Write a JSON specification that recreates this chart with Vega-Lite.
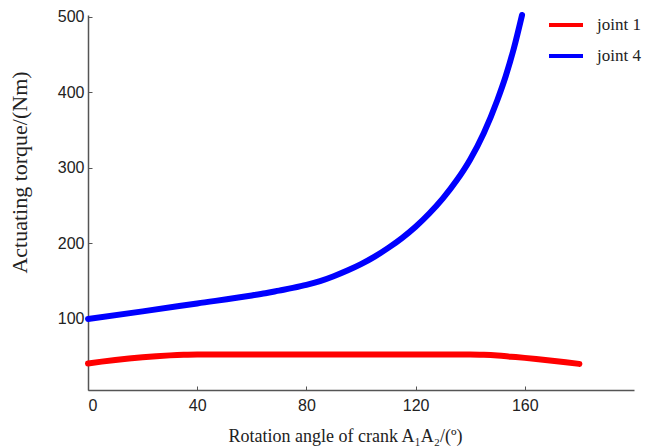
{
  "$schema": "https://vega.github.io/schema/vega-lite/v6.json",
  "width": 546,
  "height": 375,
  "autosize": "none",
  "padding": {"left": 88, "top": 15, "right": 14, "bottom": 57},
  "background": "white",
  "config": {"view": {"stroke": null}},
  "data": {
    "values": [
      {"series": "joint 1", "angle": 0, "torque": 41},
      {"series": "joint 1", "angle": 5, "torque": 43.5},
      {"series": "joint 1", "angle": 10, "torque": 45.7},
      {"series": "joint 1", "angle": 15, "torque": 47.6},
      {"series": "joint 1", "angle": 20, "torque": 49.3},
      {"series": "joint 1", "angle": 25, "torque": 50.7},
      {"series": "joint 1", "angle": 30, "torque": 51.8},
      {"series": "joint 1", "angle": 35, "torque": 52.6},
      {"series": "joint 1", "angle": 40, "torque": 53},
      {"series": "joint 1", "angle": 60, "torque": 53},
      {"series": "joint 1", "angle": 80, "torque": 53},
      {"series": "joint 1", "angle": 100, "torque": 53},
      {"series": "joint 1", "angle": 120, "torque": 53},
      {"series": "joint 1", "angle": 140, "torque": 53},
      {"series": "joint 1", "angle": 145, "torque": 52.5},
      {"series": "joint 1", "angle": 150, "torque": 51.5},
      {"series": "joint 1", "angle": 155, "torque": 50},
      {"series": "joint 1", "angle": 160, "torque": 48.5},
      {"series": "joint 1", "angle": 165, "torque": 46.7},
      {"series": "joint 1", "angle": 170, "torque": 44.8},
      {"series": "joint 1", "angle": 175, "torque": 42.8},
      {"series": "joint 1", "angle": 180, "torque": 40.5},
      {"series": "joint 4", "angle": 0, "torque": 100},
      {"series": "joint 4", "angle": 20, "torque": 110},
      {"series": "joint 4", "angle": 40, "torque": 120.5},
      {"series": "joint 4", "angle": 60, "torque": 131},
      {"series": "joint 4", "angle": 65, "torque": 134},
      {"series": "joint 4", "angle": 70, "torque": 137.5},
      {"series": "joint 4", "angle": 75, "torque": 141},
      {"series": "joint 4", "angle": 80, "torque": 145},
      {"series": "joint 4", "angle": 85, "torque": 150},
      {"series": "joint 4", "angle": 90, "torque": 156.5},
      {"series": "joint 4", "angle": 95, "torque": 164},
      {"series": "joint 4", "angle": 100, "torque": 172.5},
      {"series": "joint 4", "angle": 105, "torque": 182.5},
      {"series": "joint 4", "angle": 110, "torque": 194},
      {"series": "joint 4", "angle": 115, "torque": 207},
      {"series": "joint 4", "angle": 120, "torque": 222},
      {"series": "joint 4", "angle": 125, "torque": 239.5},
      {"series": "joint 4", "angle": 130, "torque": 259.5},
      {"series": "joint 4", "angle": 135, "torque": 283},
      {"series": "joint 4", "angle": 140, "torque": 311},
      {"series": "joint 4", "angle": 145, "torque": 346},
      {"series": "joint 4", "angle": 150, "torque": 390},
      {"series": "joint 4", "angle": 153, "torque": 421},
      {"series": "joint 4", "angle": 156, "torque": 458},
      {"series": "joint 4", "angle": 159, "torque": 502}
    ]
  },
  "mark": {"type": "line", "strokeWidth": 6, "interpolate": "monotone", "strokeCap": "round"},
  "encoding": {
    "x": {
      "field": "angle", "type": "quantitative",
      "scale": {"domain": [0, 200], "nice": false, "zero": false},
      "axis": {
        "values": [0, 40, 80, 120, 160],
        "title": "Rotation angle of crank A₁A₂/(º)",
        "titleFont": "Liberation Serif", "titleFontSize": 18, "titleFontWeight": "normal",
        "titleColor": "#222", "titleX": 257, "titlePadding": 14,
        "labelFont": "Liberation Sans", "labelFontSize": 16, "labelColor": "#222",
        "labelPadding": 11, "tickSize": -4, "tickColor": "#555", "domainColor": "#555",
        "domainWidth": 1.5, "grid": false
      }
    },
    "y": {
      "field": "torque", "type": "quantitative",
      "scale": {"domain": [6, 502], "nice": false, "zero": false},
      "axis": {
        "values": [100, 200, 300, 400, 500],
        "title": "Actuating torque/(Nm)",
        "titleFont": "Liberation Serif", "titleFontSize": 22, "titleFontWeight": "normal",
        "titleColor": "#222", "titleX": -57, "titleY": 157, "titleAlign": "center",
        "titleBaseline": "bottom",
        "labelFont": "Liberation Sans", "labelFontSize": 16, "labelColor": "#222",
        "labelPadding": 8, "tickSize": -4, "tickColor": "#555", "domainColor": "#555",
        "domainWidth": 1.5, "grid": false
      }
    },
    "color": {
      "field": "series", "type": "nominal",
      "scale": {"domain": ["joint 1", "joint 4"], "range": ["#ff0000", "#0000ff"]},
      "legend": {
        "title": null, "orient": "none", "legendX": 459, "legendY": -9,
        "symbolType": "stroke", "symbolSize": 1156, "symbolStrokeWidth": 4,
        "labelFont": "Liberation Serif", "labelFontSize": 17, "labelColor": "#222",
        "labelOffset": 12, "rowPadding": 4
      }
    }
  }
}
